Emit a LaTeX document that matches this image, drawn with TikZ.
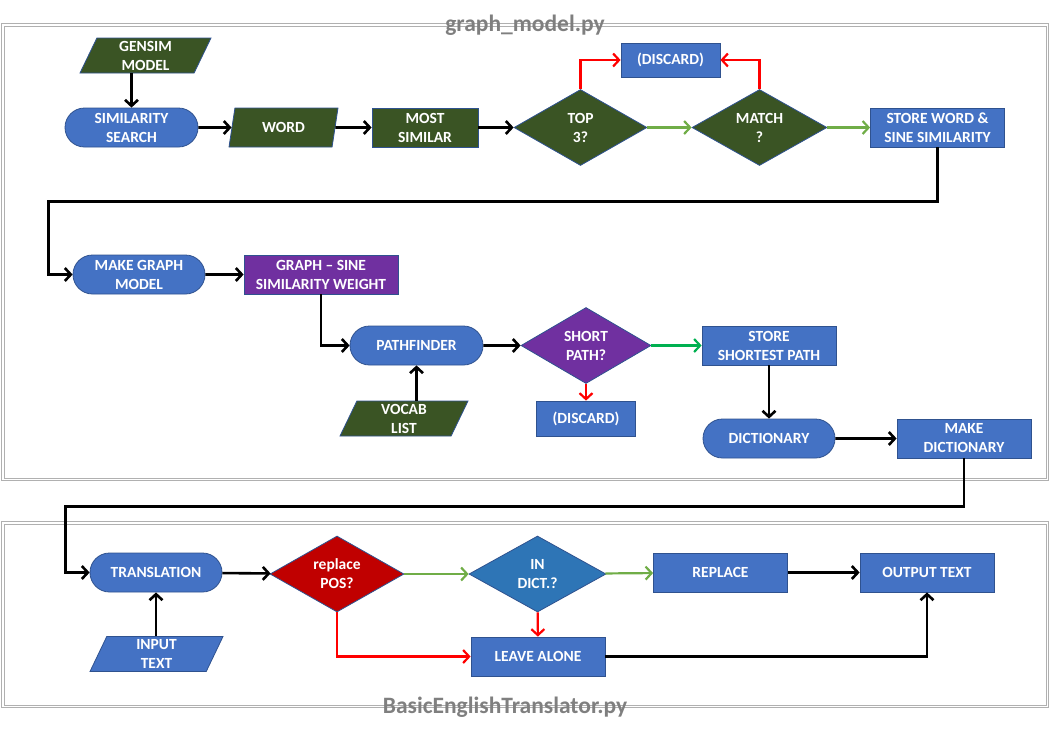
\documentclass[tikz,border=0pt]{standalone}
\usepackage{fontspec}
\setmainfont{Carlito}
\usetikzlibrary{arrows.meta,positioning,shapes.geometric,shapes.misc,calc}

\definecolor{bx}{HTML}{4472C4}
\definecolor{bdr}{HTML}{2F528F}
\definecolor{olive}{HTML}{3A5424}
\definecolor{purp}{HTML}{7030A0}
\definecolor{dred}{HTML}{C00000}
\definecolor{dblue}{HTML}{2E75B6}
\definecolor{lgreen}{HTML}{70AD47}
\definecolor{bgreen}{HTML}{00B050}
\definecolor{rd}{HTML}{FF0000}
\definecolor{frm}{HTML}{B0B0B0}
\definecolor{ttl}{HTML}{7F7F7F}

\newcommand{\boxfont}{\fontsize{15.5}{19}\selectfont\bfseries}
\newcommand{\ttlfont}{\fontsize{23.5}{26}\selectfont\bfseries}

\tikzset{
    term/.style =   {rounded rectangle,
                    fill=bx,
                    draw=bdr,
                    text=white,
                    line width=0.8pt,
                    inner sep=0pt,
                    align=center,
                    font=\boxfont,
                    minimum width=133pt,
                    minimum height=39pt},
    proc/.style =   {rectangle,
                    fill=bx,
                    draw=bdr,
                    text=white,
                    line width=0.8pt,
                    inner sep=0pt,
                    align=center,
                    font=\boxfont,
                    minimum width=134pt,
                    minimum height=39pt},
    io/.style =     {trapezium,
                    trapezium left angle=60,
                    trapezium right angle=120,
                    trapezium stretches body,
                    fill=olive,
                    draw=bdr,
                    text=white,
                    line width=0.8pt,
                    inner sep=0pt,
                    align=center,
                    font=\boxfont,
                    minimum width=131pt,
                    minimum height=35pt},
    dec/.style =    {diamond,
                    aspect=1.75,
                    fill=olive,
                    draw=bdr,
                    text=white,
                    line width=0.8pt,
                    inner sep=0pt,
                    align=center,
                    font=\boxfont,
                    minimum width=133pt,
                    minimum height=76pt},
    scriptbox/.style = {draw=frm,
                    line width=1pt},
    -,
    flow/.style =   {line width=2.6pt, ->, draw=black},
    yes/.style =    {line width=2.2pt, ->, draw=lgreen},
    no/.style =     {line width=2.2pt, ->, draw=rd},
    >={Straight Barb[length=6pt,width=13pt]}}

\begin{document}
\begin{tikzpicture}[x=1pt,y=-1pt]
    \useasboundingbox (0,0) rectangle (1051,737);

    % the two script frames
    \draw[scriptbox] (1.5,23.5) rectangle (1048.5,480.5);
    \draw[scriptbox] (4,26) rectangle (1046,478);
    \draw[scriptbox] (1.5,521.5) rectangle (1048.5,707.5);
    \draw[scriptbox] (4,524) rectangle (1046,705);
    \node[text=ttl,font=\ttlfont,anchor=base] (T1) at (525,31) {graph\_model.py};
    \node[text=ttl,font=\ttlfont,anchor=base] (T2) at (505,713) {BasicEnglishTranslator.py};

    % graph_model.py
    \node[io]               (GEN)   at (145.5,55.5)         {GENSIM\\MODEL};
    \node[term]             (SIM)   at (131.5,127.5)        {SIMILARITY\\SEARCH};
    \node[io,minimum width=109pt,minimum height=39pt] (WORD) [right of=SIM,node distance=152pt] {WORD};
    \node[proc,fill=olive,minimum width=106pt] (MOST) [right of=WORD,node distance=141.5pt] {MOST\\SIMILAR};
    \node[dec]              (TOP)   [right of=MOST,node distance=155.5pt] {TOP\\3?};
    \node[dec,minimum width=135pt] (MATCH) [right of=TOP,node distance=179pt] {MATCH\\?};
    \node[proc]             (STORE) [right of=MATCH,node distance=178pt] {STORE WORD \&\\SINE SIMILARITY};
    \node[proc,minimum width=99pt,minimum height=34pt] (DIS1) at (670.5,60) {(DISCARD)};

    \node[term,minimum width=132pt] (MG) at (139,274.5) {MAKE GRAPH\\MODEL};
    \node[proc,fill=purp,minimum width=154pt] (GRAPH) [right of=MG,node distance=182pt] {GRAPH -- SINE\\SIMILARITY WEIGHT};
    \node[term]             (PATH)  at (416.5,345.5)        {PATHFINDER};
    \node[io,minimum width=128pt] (VOCAB) at (404,418.5)   {VOCAB\\LIST};
    \node[dec,fill=purp,minimum width=130pt] (SHORT) at (586,345.5) {SHORT\\PATH?};
    \node[proc,minimum width=99pt,minimum height=35pt] (DIS2) [below of=SHORT,node distance=73pt] {(DISCARD)};
    \node[proc]             (SSP)   at (769,345.5)          {STORE\\SHORTEST PATH};
    \node[term,minimum width=132pt] (DICT) [below of=SSP,node distance=93pt] {DICTIONARY};
    \node[proc]             (MD)    [right of=DICT,node distance=195pt] {MAKE\\DICTIONARY};

    % BasicEnglishTranslator.py
    \node[term,minimum width=132pt] (TRANS) at (156,572.5) {TRANSLATION};
    \node[io,fill=bx,minimum width=133pt] (INPUT) at (156.5,654) {INPUT\\TEXT};
    \node[dec,fill=dred,minimum width=134pt] (RPOS) at (337,574) {replace\\POS?};
    \node[dec,fill=dblue,minimum width=137pt] (IND) [right of=RPOS,node distance=200.5pt] {IN\\DICT.?};
    \node[proc]             (REP)   at (720.5,572.5)        {REPLACE};
    \node[proc]             (OUT)   [right of=REP,node distance=206.5pt] {OUTPUT TEXT};
    \node[proc]             (LEAVE) at (538,656.5)          {LEAVE ALONE};

    \path [flow]    (SIM)   edge (WORD)
                    (WORD)  edge (MOST)
                    (MOST)  edge (TOP)
                    (MG)    edge (GRAPH)
                    (PATH)  edge (SHORT)
                    (SSP)   edge (DICT)
                    (DICT)  edge (MD)
                    (TRANS) edge (RPOS)
                    (REP)   edge (OUT);
    \path [yes]     (TOP)   edge (MATCH)
                    (MATCH) edge (STORE)
                    (RPOS)  edge (IND)
                    (IND)   edge (REP);
    \path [yes,draw=bgreen] (SHORT) edge (SSP);
    \path [no]      (SHORT) edge (DIS2)
                    (IND)   edge (LEAVE);

    \draw [flow]    (SIM.north |- GEN.south) -- (SIM.north);
    \draw [flow]    (PATH.south |- VOCAB.north) -- (PATH.south);
    \draw [flow]    (TRANS.south |- INPUT.north) -- (TRANS.south);
    \draw [no]      (TOP.north) |- (DIS1.west);
    \draw [no]      (MATCH.north) |- (DIS1.east);
    \draw [no]      (RPOS.south) |- (LEAVE.west);
    \draw [flow]    (STORE.south) -- ++(0,54) -| ($(MG.west)+(-24,0)$) -- (MG.west);
    \draw [flow]    (GRAPH.south) |- (PATH.west);
    \draw [flow]    (MD.south) -- ++(0,48) -| ($(TRANS.west)+(-24,0)$) -- (TRANS.west);
    \draw [flow]    (LEAVE.east) -| (OUT.south);
\end{tikzpicture}
\end{document}
